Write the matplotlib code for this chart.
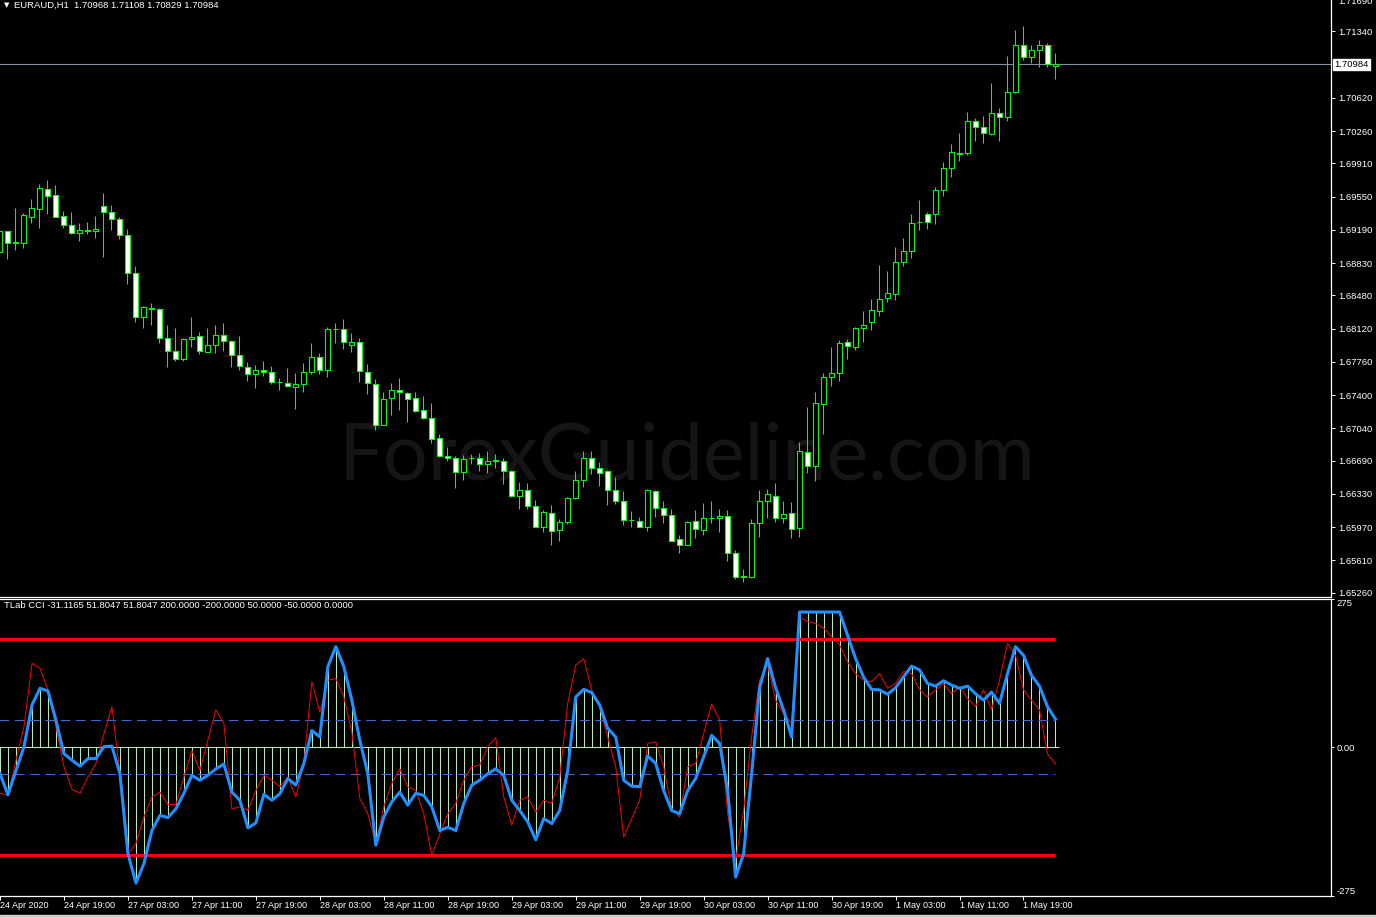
import matplotlib
matplotlib.use("Agg")
import matplotlib.pyplot as plt
from matplotlib.patches import Rectangle

# EURAUD H1 candles, 24 Apr 11:00 -> 1 May 23:00
opens = [1.68947, 1.69175, 1.69050, 1.69048, 1.69330, 1.69417, 1.69627, 1.69562, 1.69345, 1.69247,
         1.69156, 1.69186, 1.69178, 1.69453, 1.69388, 1.69302, 1.69139, 1.68727, 1.68245, 1.68340,
         1.68336, 1.68022, 1.67881, 1.67787, 1.68007, 1.68044, 1.67866, 1.67942, 1.68055, 1.67989,
         1.67838, 1.67707, 1.67627, 1.67675, 1.67653, 1.67542, 1.67534, 1.67486, 1.67519, 1.67646,
         1.67816, 1.67671, 1.68115, 1.68120, 1.67939, 1.67971, 1.67653, 1.67523, 1.67079, 1.67371,
         1.67458, 1.67426, 1.67371, 1.67241, 1.67154, 1.66938, 1.66742, 1.66721, 1.66569, 1.66714,
         1.66721, 1.66656, 1.66690, 1.66688, 1.66580, 1.66304, 1.66374, 1.66200, 1.65972, 1.66124,
         1.65940, 1.66027, 1.66287, 1.66482, 1.66721, 1.66612, 1.66580, 1.66374, 1.66254, 1.66046,
         1.66038, 1.65972, 1.66363, 1.66179, 1.66103, 1.65842, 1.65777, 1.66038, 1.65938, 1.66068,
         1.66066, 1.66092, 1.65691, 1.65432, 1.65426, 1.66012, 1.66250, 1.66309, 1.66070, 1.66124,
         1.65962, 1.66786, 1.66634, 1.67306, 1.67599, 1.67642, 1.67979, 1.67924, 1.68130, 1.68191,
         1.68310, 1.68456, 1.68495, 1.68846, 1.68965, 1.69275, 1.69356, 1.69356, 1.69616, 1.69855,
         1.70018, 1.70017, 1.70364, 1.70299, 1.70223, 1.70451, 1.70408, 1.70679, 1.71188, 1.71058,
         1.71134, 1.71188, 1.70968]
highs = [1.69196, 1.69180, 1.69424, 1.69373, 1.69522, 1.69684, 1.69728, 1.69674, 1.69399, 1.69381,
         1.69265, 1.69272, 1.69337, 1.69587, 1.69457, 1.69327, 1.69204, 1.68795, 1.68361, 1.68394,
         1.68345, 1.68155, 1.68130, 1.68015, 1.68242, 1.68087, 1.68130, 1.68155, 1.68177, 1.67993,
         1.68036, 1.67754, 1.67722, 1.67765, 1.67711, 1.67581, 1.67689, 1.67635, 1.67743, 1.67960,
         1.67859, 1.68134, 1.68185, 1.68220, 1.68069, 1.68014, 1.67732, 1.67570, 1.67436, 1.67526,
         1.67588, 1.67430, 1.67436, 1.67393, 1.67317, 1.66981, 1.66840, 1.66742, 1.66753, 1.66764,
         1.66775, 1.66797, 1.66764, 1.66721, 1.66590, 1.66460, 1.66450, 1.66265, 1.66157, 1.66211,
         1.66059, 1.66298, 1.66580, 1.66797, 1.66797, 1.66677, 1.66590, 1.66515, 1.66363, 1.66146,
         1.66081, 1.66385, 1.66368, 1.66254, 1.66168, 1.65886, 1.66038, 1.66149, 1.66234, 1.66254,
         1.66168, 1.66157, 1.65723, 1.65517, 1.66059, 1.66374, 1.66385, 1.66450, 1.66254, 1.66244,
         1.66894, 1.67274, 1.67436, 1.67642, 1.67924, 1.68000, 1.68011, 1.68141, 1.68315, 1.68445,
         1.68814, 1.68749, 1.69009, 1.69106, 1.69356, 1.69508, 1.69388, 1.69649, 1.69920, 1.70115,
         1.70234, 1.70462, 1.70397, 1.70419, 1.70776, 1.70505, 1.71069, 1.71351, 1.71395, 1.71188,
         1.71243, 1.71210, 1.71108]
lows = [1.68882, 1.68871, 1.68969, 1.68994, 1.69265, 1.69211, 1.69359, 1.69325, 1.69211, 1.69150,
        1.69070, 1.69142, 1.69099, 1.68896, 1.69186, 1.69088, 1.68600, 1.68191, 1.68126, 1.68155,
        1.67963, 1.67700, 1.67765, 1.67765, 1.67917, 1.67841, 1.67862, 1.67860, 1.67873, 1.67700,
        1.67667, 1.67548, 1.67472, 1.67602, 1.67516, 1.67450, 1.67483, 1.67244, 1.67429, 1.67624,
        1.67624, 1.67591, 1.67960, 1.67898, 1.67863, 1.67541, 1.67415, 1.67024, 1.67075, 1.67187,
        1.67241, 1.67111, 1.67215, 1.67136, 1.66883, 1.66732, 1.66684, 1.66395, 1.66482, 1.66656,
        1.66575, 1.66554, 1.66608, 1.66434, 1.66293, 1.66163, 1.66163, 1.65968, 1.65914, 1.65773,
        1.65816, 1.66005, 1.66277, 1.66406, 1.66547, 1.66413, 1.66211, 1.66222, 1.65994, 1.65972,
        1.65968, 1.65929, 1.66081, 1.66016, 1.65816, 1.65691, 1.65772, 1.65851, 1.65884, 1.66012,
        1.65914, 1.65599, 1.65404, 1.65372, 1.65415, 1.65860, 1.66066, 1.66022, 1.66012, 1.65849,
        1.65860, 1.66554, 1.66467, 1.66977, 1.67501, 1.67556, 1.67794, 1.67892, 1.67979, 1.68101,
        1.68256, 1.68408, 1.68430, 1.68798, 1.68885, 1.69193, 1.69200, 1.69258, 1.69551, 1.69757,
        1.69941, 1.69996, 1.70147, 1.70126, 1.70212, 1.70147, 1.70364, 1.70675, 1.71026, 1.70993,
        1.70950, 1.70950, 1.70829]
closes = [1.69175, 1.69048, 1.69055, 1.69348, 1.69421, 1.69638, 1.69558, 1.69330, 1.69247, 1.69156,
          1.69193, 1.69182, 1.69204, 1.69384, 1.69302, 1.69139, 1.68727, 1.68245, 1.68350, 1.68336,
          1.68018, 1.67877, 1.67790, 1.68011, 1.68033, 1.67877, 1.67946, 1.68055, 1.67985, 1.67838,
          1.67714, 1.67627, 1.67675, 1.67649, 1.67540, 1.67540, 1.67501, 1.67516, 1.67646, 1.67816,
          1.67671, 1.68120, 1.68110, 1.67974, 1.67974, 1.67664, 1.67534, 1.67079, 1.67360, 1.67458,
          1.67436, 1.67360, 1.67226, 1.67154, 1.66927, 1.66742, 1.66721, 1.66569, 1.66710, 1.66718,
          1.66656, 1.66688, 1.66692, 1.66580, 1.66304, 1.66374, 1.66200, 1.65972, 1.66135, 1.65929,
          1.66027, 1.66287, 1.66482, 1.66721, 1.66612, 1.66558, 1.66374, 1.66254, 1.66048, 1.66042,
          1.65972, 1.66374, 1.66179, 1.66103, 1.65821, 1.65777, 1.66027, 1.65949, 1.66070, 1.66072,
          1.66092, 1.65686, 1.65426, 1.65436, 1.66016, 1.66254, 1.66330, 1.66070, 1.66113, 1.65946,
          1.66797, 1.66634, 1.67317, 1.67599, 1.67642, 1.67968, 1.67935, 1.68130, 1.68163, 1.68326,
          1.68445, 1.68510, 1.68846, 1.68965, 1.69269, 1.69280, 1.69280, 1.69616, 1.69855, 1.70028,
          1.70013, 1.70364, 1.70299, 1.70234, 1.70451, 1.70408, 1.70679, 1.71188, 1.71058, 1.71134,
          1.71188, 1.70982, 1.70984]

# TLab CCI: thick blue line (also drawn as histogram) and thin red line
cci_blue = [-49, -88, -43, 1, 78, 109, 104, 50, -12, -24,
            -35, -21, -21, 1, 2, -49, -197, -251, -215, -154,
            -126, -130, -114, -85, -52, -61, -52, -40, -31, -83,
            -98, -149, -140, -87, -98, -86, -58, -70, -30, 31,
            19, 149, 186, 149, 87, 13, -49, -181, -129, -101,
            -83, -107, -85, -89, -110, -154, -148, -154, -104, -70,
            -61, -49, -40, -52, -98, -117, -138, -171, -132, -141,
            -117, -43, 93, 107, 101, 78, 35, 19, -61, -72,
            -73, -16, -30, -80, -117, -123, -80, -58, -18, 22,
            7, -80, -240, -197, -49, 110, 164, 110, 69, 19,
            250, 250, 250, 250, 250, 250, 207, 164, 130, 107,
            106, 98, 110, 130, 150, 143, 118, 113, 123, 115,
            109, 113, 99, 87, 102, 81, 136, 186, 170, 133,
            113, 75, 52]
cci_red = [-85, -89, -24, 38, 155, 146, 106, 38, -36, -78,
           -85, -55, -30, 25, 75, -49, -197, -178, -129, -92,
           -83, -106, -106, -55, -6, -43, 13, 69, 44, -114,
           -110, -117, -80, -52, -61, -73, -55, -92, -30, 121,
           65, 124, 127, 93, 28, -95, -123, -178, -110, -67,
           -40, -73, -80, -123, -200, -160, -123, -104, -61, -36,
           -33, 1, 18, -92, -144, -98, -92, -120, -98, -104,
           -55, 81, 152, 164, 106, 75, 19, -36, -166, -132,
           -98, 7, 10, -36, -114, -129, -36, -30, 25, 80,
           50, -123, -209, -117, 19, 124, 152, 87, 62, 44,
           241, 232, 229, 220, 204, 189, 158, 136, 124, 121,
           136, 109, 118, 140, 136, 106, 93, 106, 118, 99,
           112, 90, 75, 106, 69, 124, 192, 170, 106, 87,
           69, -12, -31]
cci_levels = [200, -200, 50, -50]

price_ticks = [1.71340, 1.70620, 1.70260, 1.69910, 1.69550, 1.69190, 1.68830, 1.68480,
               1.68120, 1.67760, 1.67400, 1.67040, 1.66690, 1.66330, 1.65970, 1.65610, 1.65260]
last_price = 1.70984
time_labels = ["24 Apr 2020", "24 Apr 19:00", "27 Apr 03:00", "27 Apr 11:00", "27 Apr 19:00",
               "28 Apr 03:00", "28 Apr 11:00", "28 Apr 19:00", "29 Apr 03:00", "29 Apr 11:00",
               "29 Apr 19:00", "30 Apr 03:00", "30 Apr 11:00", "30 Apr 19:00", "1 May 03:00",
               "1 May 11:00", "1 May 19:00"]

W, H = 1376, 918
FONT = "Liberation Sans"
GREEN = "#00ff00"
plt.rcParams["lines.scale_dashes"] = False


def box(l, t, r, b):
    return [l / W, 1 - b / H, (r - l) / W, (b - t) / H]


fig = plt.figure(figsize=(W / 100, H / 100), dpi=100, facecolor="black")
ax = fig.add_axes(box(0, 0, 1331, 596.5))
ax2 = fig.add_axes(box(0, 598.5, 1331, 896))

n = len(closes)
xs = list(range(n))
xlim = (0.083, 0.083 + 1331 / 8)

for a in (ax, ax2):
    a.set_facecolor("black")
    a.set_xlim(*xlim)
    a.spines["left"].set_visible(False)
    for s in ("right", "bottom", "top"):
        a.spines[s].set_color("white")
        a.spines[s].set_linewidth(0.9)
    a.yaxis.tick_right()
    a.tick_params(axis="y", colors="white", length=3, width=0.7, pad=2, labelsize=6.8)
ax.spines["top"].set_visible(False)

# price panel
ax.set_ylim(1.65217, 1.71680)
ax.set_xticks([])
ax.set_yticks(price_ticks)
ax.set_yticklabels([f"{p:.5f}" for p in price_ticks], fontfamily=FONT, fontsize=6.8, color="white")

ax.text(687 / W, 1 - 458 / H, "ForexGuideline.com", transform=fig.transFigure, ha="center",
        va="center", fontsize=57, color="#151515", family="Lato", zorder=0)

ax.vlines(xs, lows, highs, color=GREEN, lw=0.75, zorder=2)
for i in xs:
    o, c = opens[i], closes[i]
    bull = c >= o
    ax.add_patch(Rectangle((i - 0.28, min(o, c)), 0.56, max(abs(c - o), 1e-6),
                           facecolor="black" if bull else "white", edgecolor=GREEN,
                           lw=0.8, zorder=3))

ax.axhline(last_price, color="#8090a8", lw=0.8, zorder=1)
fig.text(1334 / W, 1 - 64.5 / H, f"{last_price:.5f}", fontsize=6.8, family=FONT, color="black",
         va="center", ha="left", bbox=dict(boxstyle="square,pad=0.15", fc="white", ec="white"))
fig.text(1338 / W, 1 - 1 / H, "1.71690", fontsize=6.8, family=FONT, color="white", va="center")

fig.text(4 / W, 1 - 5 / H, "\u25bc", fontsize=5, color="white", va="center", family="DejaVu Sans")
fig.text(14 / W, 1 - 5 / H, "EURAUD,H1  1.70968 1.71108 1.70829 1.70984", fontsize=6.8,
         family=FONT, color="white", va="center")

# CCI panel
ax2.set_ylim(-275, 275)
ax2.set_yticks([275, 0, -275])
ax2.set_yticklabels(["275", "0.00", "-275"], fontfamily=FONT, fontsize=6.8, color="white")
ax2.get_yticklabels()[0].set_va("top")
ax2.get_yticklabels()[2].set_va("bottom")
ax2.tick_params(axis="y", length=2)

ax2.vlines(xs, 0, cci_blue, color="#b8f5b8", lw=0.7, zorder=1)
ax2.hlines(0, -0.5, n - 0.5, color="#b8f5b8", lw=0.7, zorder=1)
for lv in cci_levels:
    if abs(lv) == 200:
        ax2.hlines(lv, -1, n - 1, color="red", lw=2.2, zorder=2)
    else:
        ax2.hlines(lv, -1, n - 1, color="#3a66e8", lw=0.8, linestyles=[(0, (7, 4))], zorder=2)
ax2.plot(xs, cci_red, color="red", lw=0.7, zorder=3)
ax2.plot(xs, cci_blue, color="#2090ff", lw=2.2, zorder=4, solid_joinstyle="round")

ax2.text(4 / W, 1 - 606 / H,
         "TLab CCI -31.1165 51.8047 51.8047 200.0000 -200.0000 50.0000 -50.0000 0.0000",
         transform=fig.transFigure, fontsize=6.8, family=FONT, color="white", va="center")

ax2.set_xticks(xs[::8])
ax2.set_xticklabels(time_labels, fontfamily=FONT, fontsize=6.5, color="white", ha="left")
ax2.tick_params(axis="x", colors="white", length=3, width=0.7, pad=0.5)

fig.patches.append(Rectangle((0, 0), 1, 3 / H, transform=fig.transFigure, color="#d4d0c8"))

fig.savefig("out.png", dpi=100, facecolor="black")
